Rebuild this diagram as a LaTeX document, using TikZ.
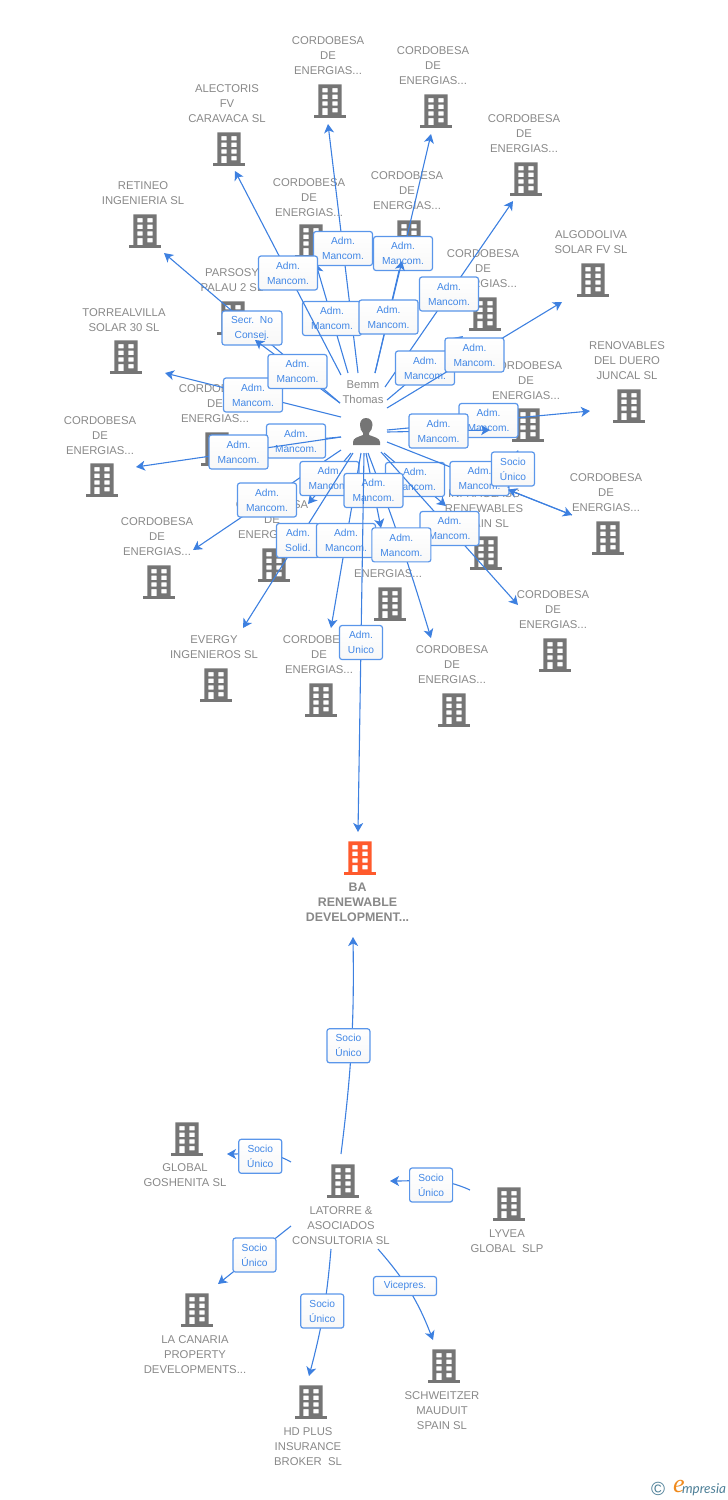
\documentclass[tikz,border=0pt]{standalone}
\usepackage{fontspec}
\setmainfont{Liberation Sans}
\newfontfamily\logofont{Lato}
\newfontfamily\logoe{Liberation Serif}
\usetikzlibrary{arrows.meta}
\definecolor{linkblue}{HTML}{3D80E0}
\definecolor{boxblue}{HTML}{5A96EA}
\definecolor{labblue}{HTML}{4187E6}
\definecolor{namegray}{HTML}{888888}
\definecolor{iconGray}{HTML}{757575}
\definecolor{iconOrange}{HTML}{FF5A2C}
\definecolor{logoteal}{HTML}{4D7F97}
\definecolor{logoorange}{HTML}{F08A1D}
\tikzset{
  conn/.style={draw=linkblue,line width=1.1pt,-{Stealth[length=9pt,width=10pt,inset=2.5pt]}},
  lab/.style={draw=boxblue,line width=1.2pt,rounded corners=2.5pt,top color=white,bottom color=black!3,
     text=labblue,align=center,inner sep=0pt,font=\fontsize{10.2}{15}\selectfont},
  adm/.style={lab,minimum width=59pt,minimum height=34pt},
  sq/.style={lab,minimum width=43pt,minimum height=34pt},
  sec/.style={lab,minimum width=60pt,minimum height=34pt},
  vic/.style={lab,minimum width=63pt,minimum height=19pt},
  cname/.style={text=namegray,align=center,inner sep=0pt,yshift=-0.8pt,font=\fontsize{11.3}{15}\selectfont}
}
% building icon: x, y, colour
\newcommand{\bldg}[3]{%
  \begin{scope}[shift={(#1,#2)}]
    \fill[#3,even odd rule] (-11.7,-16.7) rectangle (11.7,15)
      (-7.7,-13) rectangle (-2.3,-8.7) (2.3,-13) rectangle (7.7,-8.7)
      (-7.7,-6.3) rectangle (-2.3,-2) (2.3,-6.3) rectangle (7.7,-2)
      (-7.7,0.3) rectangle (-2.3,4.7) (2.3,0.3) rectangle (7.7,4.7)
      (-7.7,7) rectangle (-2.3,14.5) (2.3,7) rectangle (7.7,11.3);
    \fill[#3] (-16,14) rectangle (16,16.8);
  \end{scope}}
% company: id, x, y of the name, name text, x, y of the icon
\newcommand{\co}[6]{\node[cname] (c#1) at (#2,#3) {#4}; \bldg{#5}{#6}{iconGray}}
% link: [path options], id, start, end, label style, label text
\newcommand{\ed}[6][]{\coordinate (s#2) at (#3); \coordinate (t#2) at (#4);
  \draw[conn] (s#2) to[#1] node[#5] (l#2) {#6} (t#2);}
\newcommand{\am}{Adm.\\Mancom.}
\newcommand{\su}{Socio\\Único}
\begin{document}
\begin{tikzpicture}[x=1pt,y=-1pt]
\useasboundingbox (0,0) rectangle (728,1500);
% companies
\co{a}{328}{55}{CORDOBESA\\DE\\ENERGIAS...}{330}{101}
\co{b}{433}{65}{CORDOBESA\\DE\\ENERGIAS...}{436}{111}
\co{c}{524}{133}{CORDOBESA\\DE\\ENERGIAS...}{526}{179}
\co{d}{227}{103}{ALECTORIS\\FV\\CARAVACA SL}{229}{149}
\co{e}{143}{192.5}{RETINEO\\INGENIERIA SL}{145}{231}
\co{f}{309}{197}{CORDOBESA\\DE\\ENERGIAS...}{311}{241}
\co{g}{407}{190}{CORDOBESA\\DE\\ENERGIAS...}{409}{237}
\co{h}{232}{279.5}{PARSOSY\\PALAU 2 SL}{233}{318}
\co{i}{483}{268}{CORDOBESA\\DE\\ENERGIAS...}{485}{314}
\co{j}{591}{241.5}{ALGODOLIVA\\SOLAR FV SL}{593}{280}
\co{k}{124}{319.5}{TORREALVILLA\\SOLAR 30 SL}{126}{357}
\co{l}{627}{360}{RENOVABLES\\DEL DUERO\\JUNCAL SL}{629}{406}
\co{m}{526}{380}{CORDOBESA\\DE\\ENERGIAS...}{528}{425}
\co{n}{215}{403}{CORDOBESA\\DE\\ENERGIAS...}{217}{449}
\co{o}{100}{435}{CORDOBESA\\DE\\ENERGIAS...}{102}{480}
\co{p}{606}{492}{CORDOBESA\\DE\\ENERGIAS...}{608}{538}
\co{q}{157}{536}{CORDOBESA\\DE\\ENERGIAS...}{159}{582}
\co{r}{272}{519}{CORDOBESA\\DE\\ENERGIAS...}{274}{565}
\co{s}{484}{508}{INFRAGLASS\\RENEWABLES\\SPAIN SL}{486}{553}
\co{t}{388}{558}{CORDOBESA\\DE\\ENERGIAS...}{390}{604}
\co{u}{553}{609}{CORDOBESA\\DE\\ENERGIAS...}{555}{655}
\co{v}{214}{646.5}{EVERGY\\INGENIEROS SL}{216}{685}
\co{w}{319}{654}{CORDOBESA\\DE\\ENERGIAS...}{321}{700}
\co{x}{452}{664}{CORDOBESA\\DE\\ENERGIAS...}{454}{710}
\node[cname,font=\fontsize{12.4}{15}\selectfont\bfseries] (cba) at (357.5,901) {BA\\RENEWABLE\\DEVELOPMENT...};
\bldg{360}{858}{iconOrange}
\co{la}{341}{1225}{LATORRE \&\\ASOCIADOS\\CONSULTORIA SL}{343}{1181}
\co{gl}{185}{1174.5}{GLOBAL\\GOSHENITA SL}{187}{1139}
\co{ly}{507}{1240.5}{LYVEA\\GLOBAL\ \ SLP}{509}{1204}
\co{ca}{195}{1354}{LA CANARIA\\PROPERTY\\DEVELOPMENTS...}{197}{1310}
\co{hd}{308}{1446}{HD PLUS\\INSURANCE\\BROKER\ \ SL}{311}{1402}
\co{sc}{442}{1410}{SCHWEITZER\\MAUDUIT\\SPAIN SL}{444}{1366}
% person
\node[cname] (pname) at (363,391.5) {Bemm\\Thomas};
\coordinate (person) at (366,432);
\fill[iconGray] (366,418) .. controls (362,418) and (360,421) .. (360,425)
  .. controls (360,428) and (361,431) .. (363,433) -- (363,435)
  .. controls (358,437) and (353,438) .. (353,442) -- (353,445) -- (380,445) -- (380,442)
  .. controls (380,438) and (374,437) .. (369,435) -- (369,433)
  .. controls (371,431) and (372.5,428) .. (372.5,425) .. controls (372.5,421) and (370,418) .. (366,418) -- cycle;
% links around the person
\ed{1}{358,373}{328,124}{adm}{\am}
\ed{2}{348,373}{316,264}{adm}{\am}
\ed{3}{341,375}{235,171}{adm}{\am}
\ed{4}{375,373}{431,134}{adm}{\am}
\ed{5}{375,373}{402,261}{adm}{\am}
\ed{6}{340,403}{164,253}{sec}{Secr.\ \ No\\Consej.}
\ed{7}{341,417}{165,373}{adm}{\am}
\ed{8}{340,403}{255,340}{adm}{\am}
\ed{9}{341,437}{251,445}{adm}{\am}
\ed{10}{341,437}{136,467}{adm}{\am}
\ed{11}{341,450}{193,550}{adm}{\am}
\ed{12}{351,453}{308,504}{adm}{\am}
\ed{13}{353,453}{243,628}{sq}{Adm.\\Solid.}
\ed{14}{361,453}{331,628}{adm}{\am}
\ed{15}{384,453}{446,506}{adm}{\am}
\ed{16}{381,452}{518,605}{adm}{\am}
\ed[bend left=2]{17}{368,453}{431,638}{adm}{\am}
\ed{18}{366,453}{381,528}{adm}{\am}
\ed{19}{364,453}{358,832}{sq}{Adm.\\Unico}
\ed{20}{385,387}{513,201}{adm}{\am}
\ed{21}{387,400}{463,336}{adm}{\am}
\ed{22}{387,408}{562,302}{adm}{\am}
\ed{23}{387,430}{590,411}{adm}{\am}
\ed{24}{387,432}{490,430}{adm}{\am}
\ed{25}{387,442}{572,515}{adm}{\am}
\coordinate (s26) at (572,515); \coordinate (t26) at (508,489.6);
\draw[conn] (s26) -- (t26);
\ed{27}{508,488}{518,450}{sq}{\su}
% links around the holding
\ed[bend right=4]{30}{341,1154}{353,937}{sq,xshift=-3pt}{\su}
\ed[out=150,in=0]{31}{291,1162}{227,1154}{sq,yshift=-3pt}{\su}
\ed[out=155,in=0]{32}{470,1190}{390,1181}{sq,yshift=-4.5pt}{\su}
\ed{33}{291,1226}{218,1284}{sq}{\su}
\ed[bend left=5]{34}{331,1249}{309,1376}{sq,xshift=-1pt,yshift=2pt}{\su}
\ed[bend left=10]{35}{378,1249}{433,1340}{vic,pos=.45,xshift=-2.5pt,yshift=1.5pt}{Vicepres.}
% logo
\node[text=logoteal,inner sep=0pt,font=\fontsize{19}{19}\selectfont] (logoc) at (658,1489) {©};
\node[text=logoorange,inner sep=0pt,font=\logoe\itshape\fontsize{26}{26}\selectfont] (logoe) at (679,1486) {e};
\node[text=logoteal,inner sep=0pt,font=\logofont\itshape\fontsize{13.5}{14}\selectfont] (logom) at (704,1490) {mpresia};
\end{tikzpicture}
\end{document}
